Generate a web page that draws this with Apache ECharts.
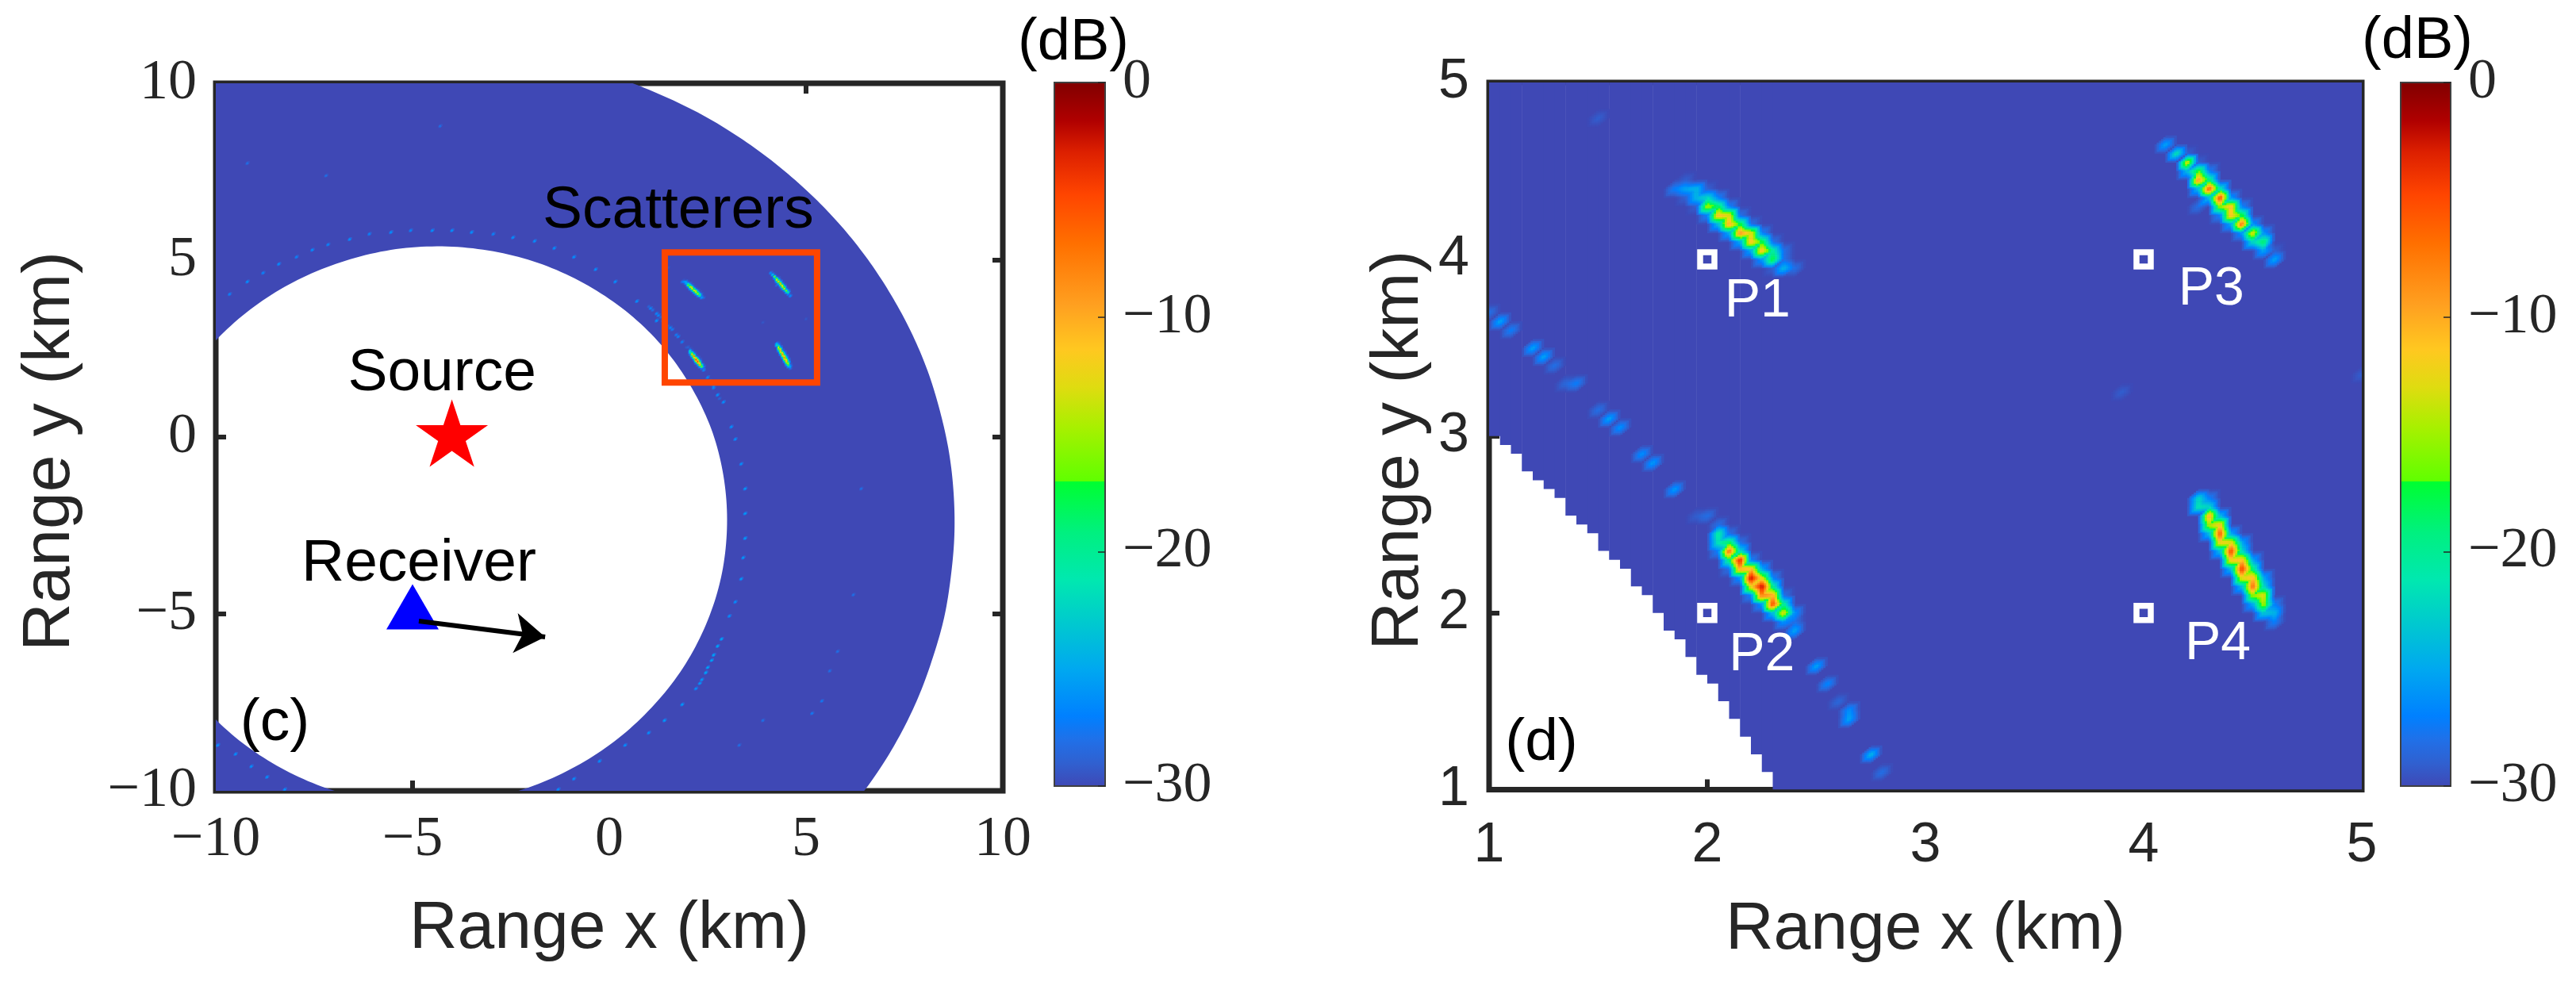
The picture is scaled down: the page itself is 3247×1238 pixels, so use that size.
<!DOCTYPE html>
<html><head><meta charset="utf-8"><title>Range maps</title>
<style>html,body{margin:0;padding:0;background:#fff}#c{width:3247px;height:1238px}</style>
<script src="https://cdn.jsdelivr.net/npm/echarts@6/dist/echarts.min.js"></script></head>
<body><div id="c"></div>
<script>
// ---------- data ----------
const colormapDb = [-30,-29,-28,-27,-25,-23.1,-21.2,-19.2,-17,-16.99,-14.7,-13,-11.4,-9.5,-6.9,-4.8,-3,-1.66,0];
const colormapHex = ['#3f48b5','#3060d0','#2070e8','#0080ff','#00a8f0','#00c8d0','#00e8b0','#00f080','#00ff30','#60ff00','#a8f000','#dfdc10','#ffc820','#ffa020','#ff7000','#ff4500','#dd2000','#b00000','#800000'];

const xTicksC = [-10,10], yTicksC = [-10,10];
const xTicksD = [1,5], yTicksD = [1,5];
const dbRange = [-30,0];

// panel (c) support of the map: outer edge, its closure outside the frame, and the inner edge, km
const outerEdge = [[-0.73,10.46],[0.37,10.09],[1.42,9.62],[2.44,9.06],[3.40,8.40],[4.29,7.67],[5.13,6.85],[5.89,5.97],[6.57,5.02],[7.16,4.02],[7.67,2.97],[8.09,1.87],[8.40,0.75],[8.63,-0.41],[8.75,-1.58],[8.77,-2.76],[8.68,-3.94],[8.51,-5.10],[8.22,-6.24],[7.85,-7.36],[7.38,-8.44],[6.82,-9.47],[6.16,-10.45],[5.44,-11.37]];
const outerClosure = [[5.44,-14],[-14,-14],[-14,14],[-0.73,14]];
const innerEdge = [[-10.87,1.53],[-10.08,2.64],[-9.12,3.61],[-8.03,4.38],[-6.83,4.94],[-5.55,5.29],[-4.25,5.39],[-2.95,5.25],[-1.70,4.88],[-0.54,4.28],[0.51,3.48],[1.40,2.50],[2.11,1.36],[2.63,0.11],[2.92,-1.23],[2.99,-2.59],[2.84,-3.97],[2.46,-5.29],[1.87,-6.53],[1.08,-7.64],[0.12,-8.61],[-0.97,-9.38],[-2.17,-9.95],[-3.45,-10.29],[-4.75,-10.39],[-6.05,-10.25],[-7.30,-9.88],[-8.46,-9.28],[-9.51,-8.48],[-10.40,-7.5],[-11.11,-6.36],[-11.63,-5.11],[-11.92,-3.77],[-11.99,-2.41],[-11.84,-1.04],[-11.46,0.29]];

// panel (d) support: lower edge of each 0.05 km column, the last one runs on to x = 5
const edgeColX = [1,1.05,1.1,1.15,1.2,1.25,1.3,1.35,1.4,1.45,1.5,1.55,1.6,1.65,1.7,1.75,1.8,1.85,1.9,1.95,2,2.05,2.1,2.15,2.2,2.25,2.3];
const edgeColY = [3,2.95,2.9,2.8,2.75,2.7,2.65,2.55,2.5,2.45,2.35,2.3,2.25,2.15,2.1,2,1.9,1.85,1.75,1.65,1.6,1.5,1.4,1.3,1.2,1.1,1];

// response nodes [x km, y km, dB]
const p1Nodes = [[1.85,4.4,-27],[1.9,4.45,-29],[1.9,4.4,-25],[1.9,4.35,-29],[1.95,4.4,-24],[1.95,4.35,-24],[1.95,4.3,-29],
[2,4.4,-29],[2,4.35,-22],[2,4.3,-14],[2,4.25,-27],[2.05,4.35,-27],[2.05,4.3,-18],[2.05,4.25,-10],[2.05,4.2,-24],
[2.1,4.3,-27],[2.1,4.25,-12],[2.1,4.2,-9],[2.1,4.15,-25],[2.15,4.25,-28],[2.15,4.2,-17],[2.15,4.15,-8],[2.15,4.1,-25],
[2.2,4.2,-28],[2.2,4.15,-12],[2.2,4.1,-10],[2.2,4.05,-25],[2.25,4.15,-27],[2.25,4.1,-17],[2.25,4.05,-10],[2.25,4,-26],
[2.3,4.1,-28],[2.3,4.05,-20],[2.3,4,-17],[2.3,3.95,-29],[2.35,4.05,-28],[2.35,4,-28],[2.35,3.95,-24],[2.4,3.95,-28]];
const p2Nodes = [[1.95,2.55,-29],[2,2.55,-28],[2.05,2.5,-28],[2.05,2.45,-20],[2.05,2.4,-21],[2.05,2.35,-27],
[2.1,2.45,-28],[2.1,2.4,-18],[2.1,2.35,-6],[2.1,2.3,-19],[2.1,2.25,-28],[2.15,2.4,-28],[2.15,2.35,-22],[2.15,2.3,-2],[2.15,2.25,-9],[2.15,2.2,-26],
[2.2,2.3,-27],[2.2,2.25,-10],[2.2,2.2,-1],[2.2,2.15,-12],[2.2,2.1,-27],[2.25,2.25,-25],[2.25,2.2,-13],[2.25,2.15,-1],[2.25,2.1,-7],[2.25,2.05,-26],
[2.3,2.2,-27],[2.3,2.15,-20],[2.3,2.1,-9],[2.3,2.05,-4],[2.3,2,-24],[2.35,2.1,-28],[2.35,2.05,-20],[2.35,2,-12],[2.35,1.95,-26],[2.4,2,-26],[2.4,1.95,-28]];
const p3Nodes = [[4.1,4.65,-25],[4.15,4.6,-21],[4.2,4.6,-29],[4.2,4.55,-12],[4.2,4.5,-24],[4.25,4.55,-29],[4.25,4.5,-16],[4.25,4.45,-8],[4.25,4.4,-24],[4.25,4.3,-28],
[4.3,4.5,-27],[4.3,4.45,-19],[4.3,4.4,-5],[4.3,4.35,-24],[4.35,4.4,-21],[4.35,4.35,-4],[4.35,4.3,-15],[4.35,4.25,-27],
[4.4,4.35,-26],[4.4,4.3,-10],[4.4,4.25,-10],[4.4,4.2,-25],[4.45,4.3,-27],[4.45,4.25,-17],[4.45,4.2,-6],[4.45,4.15,-26],
[4.5,4.2,-26],[4.5,4.15,-12],[4.5,4.1,-22],[4.55,4.15,-26],[4.55,4.1,-18],[4.55,4.05,-25],[4.6,4.05,-29],[4.6,4,-25]];
const p4Nodes = [[4.25,2.65,-22],[4.25,2.6,-21],[4.3,2.65,-27],[4.3,2.6,-22],[4.3,2.55,-9],[4.3,2.5,-14],[4.3,2.45,-24],
[4.35,2.55,-24],[4.35,2.5,-11],[4.35,2.45,-5],[4.35,2.4,-11],[4.35,2.35,-24],[4.4,2.45,-25],[4.4,2.4,-12],[4.4,2.35,-4],[4.4,2.3,-11],[4.4,2.25,-24],
[4.45,2.4,-25],[4.45,2.35,-22],[4.45,2.3,-10],[4.45,2.25,-3.5],[4.45,2.2,-12],[4.45,2.15,-24],[4.5,2.3,-25],[4.5,2.25,-19],[4.5,2.2,-10],[4.5,2.15,-6],[4.5,2.1,-15],[4.5,2.05,-25],
[4.55,2.2,-25],[4.55,2.15,-22],[4.55,2.1,-12],[4.55,2.05,-14],[4.55,2,-23],[4.6,2.05,-27],[4.6,2,-24],[4.6,1.95,-27]];
const sideLobes = [[1,3.7,-28],[1.05,3.65,-25],[1.1,3.6,-27],[1.2,3.5,-25],[1.25,3.45,-25],[1.3,3.4,-28],[1.35,3.3,-28.5],[1.4,3.3,-27],[1.5,3.15,-28],[1.55,3.1,-25],[1.6,3.05,-26],[1.7,2.9,-26],[1.75,2.85,-25.5],[1.85,2.7,-25.5],
[2.4,1.9,-25],[2.5,1.7,-25],[2.55,1.6,-26.5],[2.6,1.5,-28.5],[2.65,1.45,-26],[2.65,1.4,-25],[2.75,1.2,-24],[2.8,1.1,-28],[1.5,4.8,-29],[3.9,3.25,-29],[5,3.35,-29]];
const arcSpecklesC = [[-9.63,4.03,-25],[-9.21,4.38,-24],[-8.79,4.65,-25],[-8.38,4.91,-24],[-7.96,5.09,-25],[-7.54,5.3,-24],[-7.13,5.44,-25],[-6.6,5.62,-24],[-6.08,5.76,-25],[-5.56,5.8,-24],[-5.04,5.83,-25],[-4.52,5.83,-24],[-4,5.83,-24],[-3.48,5.8,-24],[-2.96,5.76,-25],[-2.44,5.65,-24],[-1.92,5.53,-24],[-1.4,5.34,-24],[-0.88,5.09,-24],[-0.35,4.73,-24],[0.17,4.38,-24],[0.69,3.85,-24],[1.21,3.32,-24],
[2.875,1.02,-24],[3.08,0.32,-24],[3.19,-0.04,-24],[3.35,-0.74,-24],[3.44,-1.45,-23],[3.46,-2.16,-23],[3.46,-2.86,-23],[3.4,-3.39,-23],[3.33,-4.01,-23],[3.19,-4.63,-24],[3.04,-5.07,-24],
[2.83,-5.69,-22],[2.75,-5.9,-22],[2.67,-6.13,-22],[2.6,-6.3,-22],[2.5,-6.48,-22],[2.45,-6.65,-22],[2.35,-6.84,-23],[2.3,-6.95,-23],[2.21,-7.1,-24],
[1.83,-7.54,-23],[1.42,-7.99,-23],[1,-8.34,-24],[0.38,-8.69,-24],[-0.25,-9.13,-24],[-0.88,-9.66,-24],[-1.29,-9.96,-24],
[-9.94,-8.69,-24],[-9.52,-8.96,-24],[-9.1,-9.31,-24],[-8.69,-9.58,-24],[-8.27,-9.96,-24],
[6.42,-1.45,-27],[6.21,-4.45,-27],[5.79,-6.04,-27],[5.6,-6.6,-27],[5.38,-7.46,-26],[5.17,-7.81,-26],[3.92,-7.99,-27],[3.29,-8.69,-27],[-4.3,8.8,-27],[-7.2,7.38,-27],[-9.2,7.74,-27]];

const scatterBox = [[1.41,5.22],[5.28,1.54]];
const sourcePoint = [[-4,0]];
const receiverPoint = [[-5,-5]];
const receiverHeading = [[-4.84,-5.2],[-1.63,-5.65]];
const panelCNotes = [[1.75,6.39,'Scatterers'],[-4.25,1.78,'Source'],[-4.84,-3.6,'Receiver'],[-8.5,-8.11,'(c)']];
const panelDTag = [[1.24,1.26,'(d)']];
const pointMarks = [[2,4],[2,2],[4,4],[4,2]];
const pointNames = [[2.23,3.76,'P1'],[2.25,1.76,'P2'],[4.31,3.83,'P3'],[4.34,1.82,'P4']];

// ---------- helpers ----------
const INK = '#262626', SANS = '"Liberation Sans", Arial, sans-serif', SERIF = '"Liberation Serif", serif';
const FLOOR = -30, STEP = 0.05;
function dbColor(v){
  if (v <= colormapDb[0]) return colormapHex[0];
  for (let i = 1; i < colormapDb.length; i++) {
    if (v <= colormapDb[i]) {
      const t = (v - colormapDb[i-1]) / (colormapDb[i] - colormapDb[i-1]);
      return echarts.color.lerp(t, [colormapHex[i-1], colormapHex[i]]);
    }
  }
  return colormapHex[colormapHex.length-1];
}
function buildCells(nodes){
  const vals = new Map(), k = (i,j)=>i+'_'+j;
  nodes.forEach(n => vals.set(k(Math.round(n[0]/STEP), Math.round(n[1]/STEP)), n[2]));
  const seen = new Set(), cells = [], get = (i,j)=>{const v = vals.get(k(i,j)); return v===undefined?FLOOR:v;};
  nodes.forEach(n => {
    const I = Math.round(n[0]/STEP), J = Math.round(n[1]/STEP);
    [[I-1,J-1],[I,J-1],[I-1,J],[I,J]].forEach(c => {
      const key = k(c[0],c[1]);
      if (seen.has(key)) return; seen.add(key);
      cells.push([c[0]*STEP, c[1]*STEP, get(c[0],c[1]), get(c[0]+1,c[1]), get(c[0],c[1]+1), get(c[0]+1,c[1]+1)]);
    });
  });
  return cells;
}
function shadedCells(sub){
  return function(params, api){
    const x = api.value(0), y = api.value(1), a = api.value(2), b = api.value(3), c = api.value(4), d = api.value(5);
    const children = [], h = STEP/sub, sz = api.size([h,h]);
    for (let m = 0; m < sub; m++) for (let n = 0; n < sub; n++) {
      const u = (m+0.5)/sub, v = (n+0.5)/sub;
      const val = u >= v ? a + (b-a)*u + (d-b)*v : a + (c-a)*v + (d-c)*u;
      if (val <= FLOOR + 0.02) continue;
      const p = api.coord([x + m*h, y + (n+1)*h]);
      children.push({type:'rect', shape:{x:p[0], y:p[1], width:sz[0]+0.6, height:sz[1]+0.6}, style:{fill:dbColor(val)}, silent:true});
    }
    return {type:'group', children};
  };
}
// draws a rounded pixel path through read edge points
function rounded(pts, closed){
  const out = [], N = pts.length, at = i => closed ? pts[(i+N)%N] : pts[Math.max(0,Math.min(N-1,i))];
  const last = closed ? N : N-1;
  for (let i = 0; i < last; i++) {
    const p0=at(i-1), p1=at(i), p2=at(i+1), p3=at(i+2);
    for (let s = 0; s < 10; s++) {
      const t = s/10, t2=t*t, t3=t2*t;
      out.push([0,1].map(k => 0.5*(2*p1[k] + (p2[k]-p0[k])*t + (2*p0[k]-5*p1[k]+4*p2[k]-p3[k])*t2 + (3*p1[k]-p0[k]-3*p2[k]+p3[k])*t3)));
    }
  }
  if (!closed) out.push(pts[N-1]);
  return out;
}
const minus = v => String(v).replace('-','\u2212');
const floorColor = colormapHex[0];

const grids = [
  {left:272, top:105, width:992, height:892},
  {left:1877, top:104, width:1100, height:891.5},
  {left:1329, top:104, width:64, height:887},
  {left:3026, top:104, width:63, height:887}
].map((g,i)=> i<2 ? Object.assign(g,{show:true,borderColor:INK,borderWidth:7,containLabel:false}) : g);

function tickAxis(extra){
  return Object.assign({type:'value', axisLine:{show:false,onZero:false}, splitLine:{show:false},
    axisTick:{show:true, inside:true, length:13, lineStyle:{color:INK, width:6}}, axisLabel:{show:false}}, extra);
}
const labelC = {show:true, fontFamily:SERIF, fontSize:72, color:INK, formatter:minus};
const labelD = {show:true, fontFamily:SANS, fontSize:70, color:INK};
const titleX = {fontFamily:SANS, fontSize:84, color:INK};
const titleY = {fontFamily:SANS, fontSize:84, color:INK, padding:[0,36,0,0]};

const xAxis = [
  tickAxis({gridIndex:0, min:xTicksC[0], max:xTicksC[1], interval:5, position:'bottom', axisLabel:Object.assign({margin:26},labelC), name:'Range x (km)', nameLocation:'middle', nameGap:133, nameTextStyle:titleX}),
  tickAxis({gridIndex:0, min:xTicksC[0], max:xTicksC[1], interval:5, position:'top'}),
  tickAxis({gridIndex:1, min:xTicksD[0], max:xTicksD[1], interval:1, position:'bottom', axisLabel:Object.assign({margin:36},labelD), name:'Range x (km)', nameLocation:'middle', nameGap:135, nameTextStyle:titleX}),
  tickAxis({gridIndex:1, min:xTicksD[0], max:xTicksD[1], interval:1, position:'top'}),
  {type:'value', gridIndex:2, min:0, max:1, show:false},
  {type:'value', gridIndex:3, min:0, max:1, show:false}
];
const cbAxis = (g)=>({type:'value', gridIndex:g, min:dbRange[0], max:dbRange[1], interval:10, position:'right', axisLine:{show:false,onZero:false}, splitLine:{show:false},
  axisTick:{show:true, inside:true, length:9, lineStyle:{color:INK, width:1.5}}, axisLabel:{show:true, margin:22, fontFamily:SERIF, fontSize:72, color:INK, formatter:minus}, z:5});
const yAxis = [
  tickAxis({gridIndex:0, min:yTicksC[0], max:yTicksC[1], interval:5, position:'left', axisLabel:Object.assign({margin:24},labelC), name:'Range y (km)', nameLocation:'middle', nameGap:166, nameTextStyle:titleY}),
  tickAxis({gridIndex:0, min:yTicksC[0], max:yTicksC[1], interval:5, position:'right'}),
  tickAxis({gridIndex:1, min:yTicksD[0], max:yTicksD[1], interval:1, position:'left', axisLabel:Object.assign({margin:25},labelD), name:'Range y (km)', nameLocation:'middle', nameGap:71, nameTextStyle:titleY}),
  tickAxis({gridIndex:1, min:yTicksD[0], max:yTicksD[1], interval:1, position:'right'}),
  cbAxis(2), cbAxis(3)
];

function colorbarSeries(g){
  const span = dbRange[1]-dbRange[0];
  return {type:'custom', xAxisIndex:g, yAxisIndex:g, data:[[0]], silent:true, z:2,
    renderItem:(p,api)=>{
      const tl = api.coord([0,dbRange[1]]), br = api.coord([1,dbRange[0]]);
      const stops = colormapDb.map((d,i)=>({offset:(dbRange[1]-d)/span, color:colormapHex[i]})).reverse();
      return {type:'rect', shape:{x:tl[0], y:tl[1], width:br[0]-tl[0], height:br[1]-tl[1]},
        style:{fill:new echarts.graphic.LinearGradient(0,0,0,1,stops), stroke:'#404040', lineWidth:2}};
    }};
}
const noteLabel = (color,size)=>({show:true, position:'inside', opacity:1, formatter:p=>p.data[2], fontFamily:SANS, fontSize:size, color});
const noteSeries = (xi,data,color,size)=>({type:'scatter', xAxisIndex:xi, yAxisIndex:xi, data, symbolSize:0, silent:true, z:6, itemStyle:{opacity:1}, label:noteLabel(color,size)});
const allScatterers = [].concat(p1Nodes,p2Nodes,p3Nodes,p4Nodes,sideLobes);

const series = [
  // panel (c)
  {type:'custom', xAxisIndex:0, yAxisIndex:0, clip:true, data:[[0]], silent:true, z:2,
    renderItem:(p,api)=>{
      const outer = rounded(outerEdge,false).concat(outerClosure);
      const inner = rounded(innerEdge,true).reverse();
      const path = outer.concat([outer[0]], inner, [inner[0]], [outer[0]]);
      return {type:'polygon', shape:{points:path.map(q=>api.coord(q))}, style:{fill:floorColor}};
    }},
  {type:'custom', xAxisIndex:0, yAxisIndex:0, clip:true, silent:true, z:3, renderItem:shadedCells(3), data:buildCells(allScatterers.concat(arcSpecklesC))},
  {type:'custom', xAxisIndex:0, yAxisIndex:0, data:[[0]], silent:true, z:4,
    renderItem:(p,api)=>{const a=api.coord(scatterBox[0]), b=api.coord(scatterBox[1]);
      return {type:'rect', shape:{x:a[0],y:a[1],width:b[0]-a[0],height:b[1]-a[1]}, style:{fill:'none',stroke:'#ff4500',lineWidth:8}};}},
  {type:'scatter', xAxisIndex:0, yAxisIndex:0, data:sourcePoint, silent:true, z:5, symbol:'path://M0,-10 L2.245,-3.09 9.51,-3.09 3.63,1.18 5.88,8.09 0,3.82 -5.88,8.09 -3.63,1.18 -9.51,-3.09 -2.245,-3.09 Z', symbolSize:[91,85], symbolOffset:[0,-5], itemStyle:{color:'#ff0000',opacity:1}},
  {type:'scatter', xAxisIndex:0, yAxisIndex:0, data:receiverPoint, silent:true, z:5, symbol:'triangle', symbolSize:[66,57], symbolOffset:[0,-9], itemStyle:{color:'#0000ff',opacity:1}},
  {type:'lines', coordinateSystem:'cartesian2d', xAxisIndex:0, yAxisIndex:0, silent:true, z:6, symbol:['none','arrow'], symbolSize:38,
    lineStyle:{color:'#000', width:6, opacity:1, curveness:0}, data:[{coords:receiverHeading}]},
  noteSeries(0,panelCNotes,'#000',75),
  // panel (d)
  {type:'custom', xAxisIndex:2, yAxisIndex:2, clip:true, silent:true, z:2, data:edgeColX.map((x,i)=>[x,edgeColY[i],i<edgeColX.length-1?edgeColX[i+1]:xTicksD[1]]),
    renderItem:(p,api)=>{const a=api.coord([api.value(0),yTicksD[1]]), b=api.coord([api.value(2),api.value(1)]);
      return {type:'rect', shape:{x:a[0],y:a[1],width:b[0]-a[0]+0.5,height:b[1]-a[1]}, style:{fill:floorColor}};}},
  {type:'custom', xAxisIndex:2, yAxisIndex:2, clip:true, silent:true, z:3, renderItem:shadedCells(5), data:buildCells(allScatterers)},
  {type:'scatter', xAxisIndex:2, yAxisIndex:2, data:pointMarks, silent:true, z:5, symbol:'rect', symbolSize:18, itemStyle:{color:'rgba(0,0,0,0)', borderColor:'#fff', borderWidth:7.5, opacity:1}},
  noteSeries(2,pointNames,'#fff',68),
  noteSeries(2,panelDTag,'#000',75),
  // colorbars
  colorbarSeries(4), colorbarSeries(5)
];
const graphic = [
  {type:'text', x:1353, y:55, z:10, style:{text:'(dB)', font:'74px '+SANS, fill:'#000', textAlign:'center', textVerticalAlign:'middle'}},
  {type:'text', x:3047, y:53, z:10, style:{text:'(dB)', font:'74px '+SANS, fill:'#000', textAlign:'center', textVerticalAlign:'middle'}}
];
const chart = echarts.init(document.getElementById('c'), null, {renderer:'canvas'});
chart.setOption({animation:false, backgroundColor:'#fff', grid:grids, xAxis, yAxis, series, graphic});
</script></body></html>
